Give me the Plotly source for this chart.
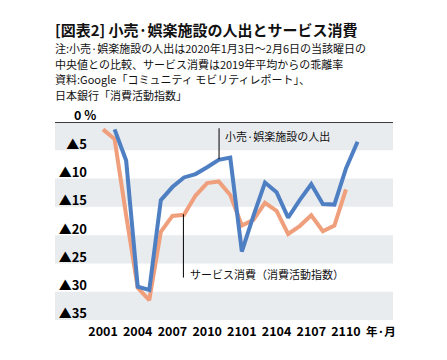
import plotly.graph_objects as go

# month index 0 = 2020-01
tick_idx = [0, 3, 6, 9, 12, 15, 18, 21]
tick_labels = ["2001", "2004", "2007", "2010", "2101", "2104", "2107", "2110"]

# サービス消費（消費活動指数） 2020-01 .. 2021-10
service_x = list(range(0, 22))
service_y = [-1.3, -3.0, -16.5, -29.3, -31.5, -19.4, -16.6, -16.4, -13.0, -10.8, -10.5, -12.9,
             -18.3, -17.3, -14.3, -15.7, -19.8, -18.4, -16.5, -19.3, -18.3, -11.9]

# 小売·娯楽施設の人出 2020-02 .. 2021-11
mobility_x = list(range(1, 23))
mobility_y = [-1.3, -6.8, -29.1, -29.7, -13.8, -11.5, -9.8, -9.2, -8.0, -6.7, -6.3,
              -22.9, -16.6, -10.7, -12.4, -16.9, -13.8, -11.0, -14.5, -14.6, -8.2, -3.5]

y_ticks = [-5, -10, -15, -20, -25, -30, -35]
y_tick_labels = ["▲5", "▲10", "▲15", "▲20", "▲25", "▲30", "▲35"]

FONT = "Noto Sans CJK JP"
BAND = "#e9ecef"
BLUE = "#4f7fc3"
ORANGE = "#f09f7c"

OFF = 8  # page body margin offset
W, H = 447 - OFF, 360 - OFF
PL, PR, PT, PB = 88, 393, 122, 320  # plot area in page pixels
L, R, T, B = PL - OFF, W - (PR - OFF), PT - OFF, H - (PB - OFF)
plot_w = W - L - R
plot_h = H - T - B


def px_x(page_x):
    return (page_x - PL) / plot_w


def px_y(page_y):
    return (PB - page_y) / plot_h


fig = go.Figure()
fig.add_trace(go.Scatter(x=service_x, y=service_y, mode="lines",
                         line=dict(color=ORANGE, width=4), cliponaxis=False,
                         hoverinfo="skip"))
fig.add_trace(go.Scatter(x=mobility_x, y=mobility_y, mode="lines",
                         line=dict(color=BLUE, width=4), cliponaxis=False,
                         hoverinfo="skip"))

band_x0 = px_x(55)
shapes = []
for top in [0, -10, -20, -30]:
    shapes.append(dict(type="rect", xref="paper", yref="y", x0=band_x0, x1=1,
                       y0=top, y1=top - 5, fillcolor=BAND, line=dict(width=0), layer="below"))
shapes.append(dict(type="line", xref="paper", yref="y", x0=band_x0, x1=1, y0=0, y1=0,
                   line=dict(color="black", width=1.5)))
# leader lines
shapes.append(dict(type="line", xref="x", yref="y", x0=10.03, x1=10.03, y0=-1.1, y1=-6.6,
                   line=dict(color="black", width=1)))
shapes.append(dict(type="line", xref="x", yref="y", x0=6.95, x1=6.95, y0=-16.3, y1=-27.5,
                   line=dict(color="black", width=1)))

annotations = [
    dict(xref="x", yref="y", x=10.35, y=-2.5, text="小売·娯楽施設の人出", showarrow=False,
         xanchor="left", yanchor="middle", font=dict(family=FONT, size=11, color="#111")),
    dict(xref="x", yref="y", x=7.35, y=-26.9, text="サービス消費（消費活動指数）", showarrow=False,
         xanchor="left", yanchor="middle", font=dict(family=FONT, size=11, color="#111")),
    dict(xref="paper", yref="paper", x=px_x(72), y=px_y(114),
         text="<b>0 %</b>", showarrow=False, xanchor="left", yanchor="middle",
         font=dict(family=FONT, size=12.5, color="black")),
    dict(xref="paper", yref="paper", x=px_x(364), y=px_y(331),
         text="<b>年·月</b>", showarrow=False, xanchor="left", yanchor="middle",
         font=dict(family=FONT, size=11.5, color="black")),
]

title_lines = [
    ("[図表2] 小売·娯楽施設の人出とサービス消費", 29.5, 15, True),
    ("注:小売·娯楽施設の人出は2020年1月3日～2月6日の当該曜日の", 48, 11, False),
    ("中央値との比較、サービス消費は2019年平均からの乖離率", 63.5, 11, False),
    ("資料:Google「コミュニティ モビリティレポート」、", 79, 11, False),
    ("日本銀行「消費活動指数」", 94.5, 11, False),
]
for txt, yc, sz, bold in title_lines:
    annotations.append(dict(xref="paper", yref="paper",
                            x=px_x(53), y=px_y(yc),
                            text=f"<b>{txt}</b>" if bold else txt, showarrow=False,
                            xanchor="left", yanchor="middle",
                            font=dict(family=FONT, size=sz, color="#111")))

fig.update_layout(
    width=W, height=H,
    margin=dict(l=L, r=R, t=T, b=B, pad=0),
    paper_bgcolor="white", plot_bgcolor="rgba(0,0,0,0)",
    showlegend=False,
    shapes=shapes, annotations=annotations,
    xaxis=dict(range=[-(103 - PL) / 11.57, (PR - 103) / 11.57], tickvals=tick_idx,
               ticktext=[f"<b>{t}</b>" for t in tick_labels], showgrid=False, zeroline=False,
               showline=False, ticks="", automargin=False, ticklabelstandoff=2,
               tickfont=dict(family=FONT, size=12.5, color="black"),
               fixedrange=True),
    yaxis=dict(range=[-35, 0], tickvals=y_ticks,
               ticktext=[f"<b>{t}</b>" for t in y_tick_labels], showgrid=False, zeroline=False,
               showline=False, ticks="", ticklabelposition="outside top", automargin=False,
               ticklabelshift=3,
               tickfont=dict(family=FONT, size=13, color="black"), fixedrange=True),
)

fig.write_html("out.html")
